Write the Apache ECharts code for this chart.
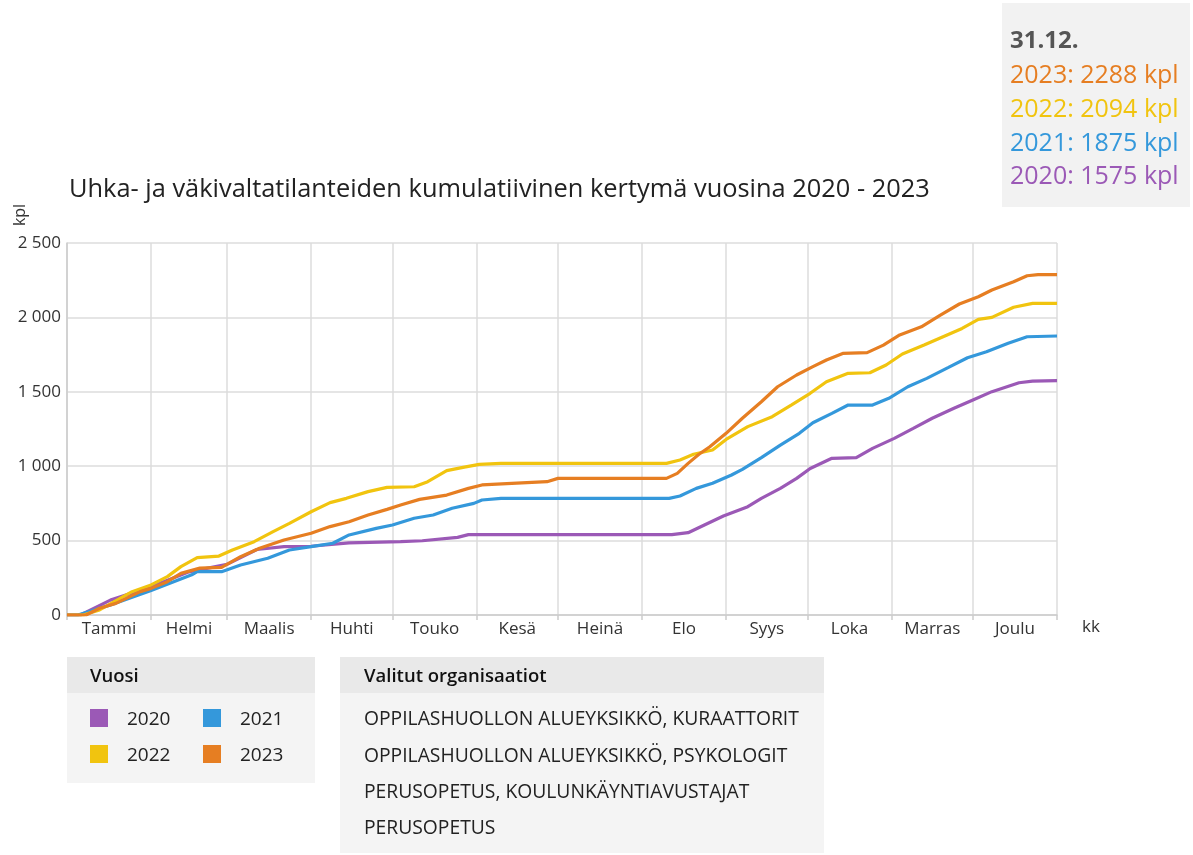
<!DOCTYPE html>
<html>
<head>
<meta charset="utf-8">
<title>Uhka- ja väkivaltatilanteet</title>
<script src="https://cdn.jsdelivr.net/npm/echarts@6/dist/echarts.min.js"></script>
<style>
  html, body { margin: 0; padding: 0; background: #fff; }
  #chart { width: 1193px; height: 855px; }
</style>
</head>
<body>
<div id="chart"></div>
<script>
var monthNames = ['Tammi', 'Helmi', 'Maalis', 'Huhti', 'Touko', 'Kesä', 'Heinä', 'Elo', 'Syys', 'Loka', 'Marras', 'Joulu'];
var monthStarts = [0, 31, 59, 90, 120, 151, 181, 212, 243, 273, 304, 334, 365];
var yTicks = [0, 500, 1000, 1500, 2000, 2500];

var years = ['2020', '2021', '2022', '2023'];
var colors = ['#9b59b6', '#3498db', '#f1c40f', '#e67e22'];

// [day of year, cumulative count]
var s2020 = [[0,0],[5,0],[16,100],[31,190],[45,290],[59,340],[70,440],[80,460],[90,462],[104,485],[123,493],[131,499],[144,522],[148,540],[223,540],[229,553],[235,605],[242,665],[251,728],[256,784],[263,851],[269,918],[274,985],[282,1053],[291,1057],[297,1120],[305,1187],[312,1254],[319,1322],[327,1389],[334,1445],[341,1501],[351,1561],[356,1572],[365,1575]];
var s2021 = [[0,0],[4,0],[16,67],[31,165],[46,270],[48,291],[57,291],[64,336],[74,381],[82,437],[90,459],[98,482],[104,538],[114,582],[120,605],[128,650],[135,672],[142,717],[150,750],[153,773],[160,784],[222,784],[226,800],[232,851],[238,885],[245,941],[249,979],[256,1058],[263,1142],[270,1221],[275,1292],[282,1355],[288,1411],[297,1411],[303,1456],[310,1534],[317,1590],[325,1664],[332,1729],[339,1769],[347,1826],[354,1870],[365,1875]];
var s2022 = [[0,0],[6,0],[12,34],[24,157],[31,202],[37,258],[42,325],[48,385],[56,396],[61,437],[69,493],[76,560],[82,616],[90,694],[97,755],[103,784],[111,829],[118,858],[128,862],[133,896],[140,970],[146,992],[152,1012],[160,1019],[221,1019],[226,1042],[231,1080],[238,1109],[243,1180],[251,1266],[260,1333],[267,1411],[274,1490],[280,1568],[288,1624],[296,1628],[302,1680],[308,1754],[316,1814],[323,1870],[330,1926],[336,1987],[341,2000],[349,2068],[356,2094],[365,2094]];
var s2023 = [[0,0],[7,0],[12,45],[18,78],[27,157],[31,179],[37,224],[42,280],[49,315],[57,320],[64,392],[71,448],[80,504],[90,549],[97,594],[104,627],[111,672],[118,710],[123,739],[130,777],[140,806],[148,851],[153,874],[164,885],[177,896],[181,918],[221,918],[225,952],[229,1019],[233,1080],[237,1131],[243,1221],[249,1322],[256,1433],[262,1534],[269,1613],[275,1669],[280,1714],[286,1758],[295,1763],[301,1814],[307,1882],[315,1937],[322,2016],[329,2090],[336,2139],[341,2184],[349,2240],[354,2280],[358,2288],[365,2288]];
var seriesData = [s2020, s2021, s2022, s2023];

var endLabel = '31.12.';
var organisations = [
  'OPPILASHUOLLON ALUEYKSIKKÖ, KURAATTORIT',
  'OPPILASHUOLLON ALUEYKSIKKÖ, PSYKOLOGIT',
  'PERUSOPETUS, KOULUNKÄYNTIAVUSTAJAT',
  'PERUSOPETUS'
];

var font = 'Open Sans';

function fmt(v) {
  return String(v).replace(/\B(?=(\d{3})+(?!\d))/g, ' ');
}

var monthMids = [];
for (var i = 0; i < 12; i++) {
  monthMids.push((monthStarts[i] + monthStarts[i + 1]) / 2);
}

var chart = echarts.init(document.getElementById('chart'));

var graphic = [];
// 31.12. summary box
graphic.push({ type: 'rect', shape: { x: 1002, y: 3, width: 188, height: 204 }, style: { fill: '#f2f2f2' } });
graphic.push({ type: 'text', x: 1010, y: 41, style: { text: endLabel, fill: '#555', fontFamily: font, fontSize: 24, fontWeight: 'bold', verticalAlign: 'middle' } });
for (var k = 0; k < years.length; k++) {
  var idx = years.length - 1 - k;
  var last = seriesData[idx][seriesData[idx].length - 1][1];
  graphic.push({ type: 'text', x: 1010, y: 76 + k * 33.7, style: { text: years[idx] + ': ' + last + ' kpl', fill: colors[idx], fontFamily: font, fontSize: 25, verticalAlign: 'middle' } });
}
// axis names
graphic.push({ type: 'text', x: 20, y: 215, rotation: Math.PI / 2, style: { text: 'kpl', fill: '#333', fontFamily: font, fontSize: 16, align: 'center', verticalAlign: 'middle' } });
graphic.push({ type: 'text', x: 1082, y: 627, style: { text: 'kk', fill: '#333', fontFamily: font, fontSize: 17, verticalAlign: 'middle' } });
// year legend box
graphic.push({ type: 'rect', shape: { x: 67, y: 657, width: 248, height: 126 }, style: { fill: '#f4f4f4' } });
graphic.push({ type: 'rect', shape: { x: 67, y: 657, width: 248, height: 36 }, style: { fill: '#e9e9e9' } });
graphic.push({ type: 'text', x: 90, y: 677, style: { text: 'Vuosi', fill: '#111', fontFamily: font, fontSize: 18.5, fontWeight: 600, verticalAlign: 'middle' } });
for (var j = 0; j < years.length; j++) {
  var cx = 90 + (j % 2) * 113;
  var cy = 718 + Math.floor(j / 2) * 36;
  graphic.push({ type: 'rect', shape: { x: cx, y: cy - 9, width: 18, height: 18 }, style: { fill: colors[j] } });
  graphic.push({ type: 'text', x: cx + 37, y: cy + 2, style: { text: years[j], fill: '#222', fontFamily: font, fontSize: 19, verticalAlign: 'middle' } });
}
// organisations box
graphic.push({ type: 'rect', shape: { x: 340, y: 657, width: 484, height: 196 }, style: { fill: '#f4f4f4' } });
graphic.push({ type: 'rect', shape: { x: 340, y: 657, width: 484, height: 36 }, style: { fill: '#e9e9e9' } });
graphic.push({ type: 'text', x: 364, y: 677, style: { text: 'Valitut organisaatiot', fill: '#111', fontFamily: font, fontSize: 18.5, fontWeight: 600, verticalAlign: 'middle' } });
for (var m = 0; m < organisations.length; m++) {
  graphic.push({ type: 'text', x: 364, y: 720 + m * 36.3, style: { text: organisations[m], fill: '#222', fontFamily: font, fontSize: 19.3, verticalAlign: 'middle' } });
}

var series = [];
for (var s = 0; s < years.length; s++) {
  series.push({
    name: years[s],
    type: 'line',
    data: seriesData[s],
    showSymbol: false,
    lineStyle: { width: 3.2, color: colors[s] },
    itemStyle: { color: colors[s] }
  });
}

chart.setOption({
  animation: false,
  textStyle: { fontFamily: font },
  title: {
    text: 'Uhka- ja väkivaltatilanteiden kumulatiivinen kertymä vuosina 2020 - 2023',
    left: 64,
    top: 172,
    textStyle: { fontFamily: font, fontSize: 25.4, fontWeight: 'normal', color: '#222' }
  },
  grid: { left: 67, right: 136, top: 243, bottom: 240, containLabel: false },
  xAxis: {
    type: 'value',
    min: 0,
    max: 365,
    axisLine: { show: true, lineStyle: { color: '#ccc', width: 1.5 } },
    axisTick: { show: true, customValues: monthStarts, length: 5, lineStyle: { color: '#ccc', width: 1.5 } },
    splitLine: { show: true, lineStyle: { color: '#ddd', width: 1.5 } },
    axisLabel: {
      customValues: monthMids,
      margin: 6,
      color: '#333',
      fontSize: 17,
      fontFamily: font,
      formatter: function (v) {
        var n = monthMids.indexOf(v);
        return n >= 0 ? monthNames[n] : '';
      }
    }
  },
  yAxis: {
    type: 'value',
    min: yTicks[0],
    max: yTicks[yTicks.length - 1],
    interval: 500,
    axisLine: { show: true, lineStyle: { color: '#ccc', width: 1.5 } },
    axisTick: { show: false },
    splitLine: { show: true, lineStyle: { color: '#ddd', width: 1.5 } },
    axisLabel: { margin: 6, color: '#333', fontSize: 17, fontFamily: font, formatter: fmt }
  },
  graphic: graphic,
  series: series
});
</script>
</body>
</html>
